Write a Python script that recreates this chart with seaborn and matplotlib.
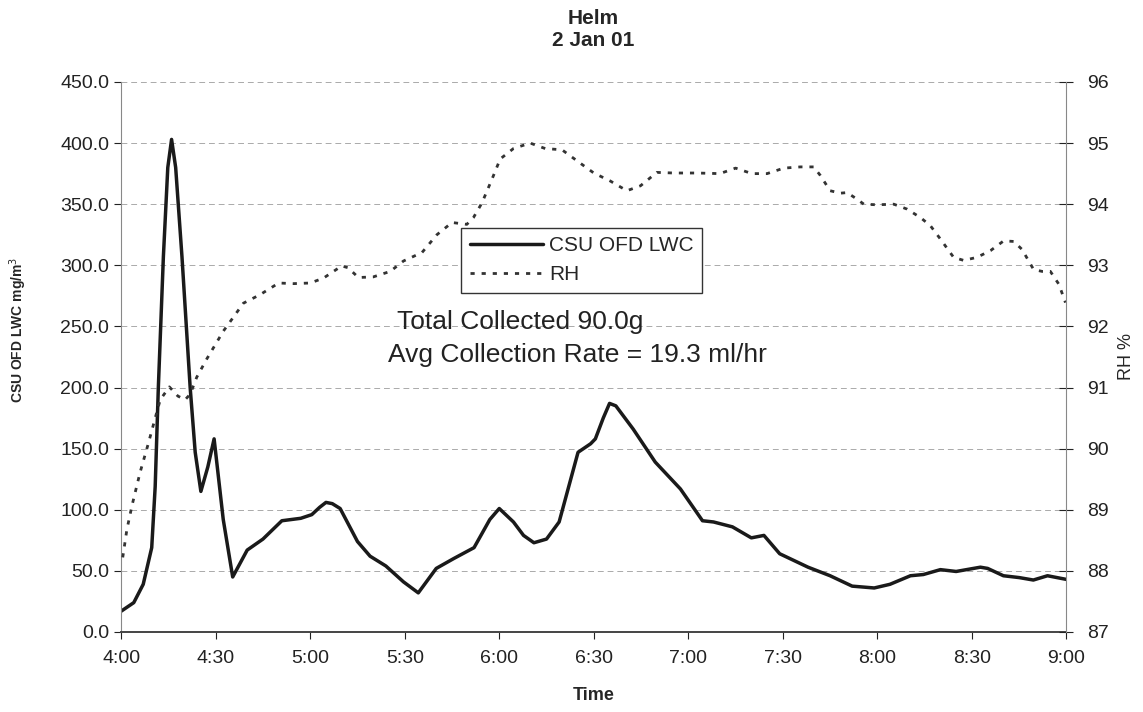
import matplotlib
matplotlib.use('Agg')
import matplotlib.pyplot as plt
import seaborn as sns
import pandas as pd

# LWC series: minutes after 4:00 and value (mg/m3)
lwc_min = [0, 4, 7, 9.7, 10.8, 11.8, 13.4, 14.8, 16, 17.3, 19.3, 21.9, 23.5, 25.3,
           27.5, 29.5, 32.4, 35.4, 40, 45, 51, 57, 60.5, 63, 65, 67, 69.5, 75, 79, 84,
           89.6, 94.3, 100, 105.5, 112, 117, 120, 124.5, 127.7, 131, 135, 139, 145,
           149, 150.5, 153, 155, 157, 162.5, 169.5, 177.5, 184.5, 188, 194, 200, 204,
           209, 218, 225, 232, 239, 244, 250.5, 254.6, 260, 265, 272.7, 275, 280, 285,
           289.5, 294, 300]
lwc_val = [17, 24, 39, 69, 119, 200, 307, 380, 403, 380, 307, 200, 147, 115,
           135, 158, 92, 45, 67, 76, 91, 93, 96, 102, 106, 105, 101, 74, 62, 54,
           41, 32, 52, 60, 69, 92, 101, 90, 79, 73, 76, 90, 147,
           154, 158, 175, 187, 185, 166, 139, 117, 91, 90, 86, 77, 79,
           64, 53, 46, 37.5, 36, 39, 46, 47, 51, 49.5, 53, 52, 46, 44.5,
           42.5, 46, 43]

# RH series: minutes after 4:00 and RH %
rh_min = [0.5, 1.8, 3.4, 6, 8.6, 10.8, 12.4, 15.3, 18, 20.3, 21.9, 24, 27.2, 32.4,
          38.8, 44.1, 50, 54.7, 60, 64.2, 70, 72, 75.3, 80, 85.4, 89.6, 95.5, 100.2,
          105, 109.7, 111.8, 114.5, 117.7, 120.3, 124.5, 129.8, 134.6, 139.9, 145.2,
          150, 155.2, 160.5, 164.8, 170, 175.3, 182.8, 190, 195, 200.2, 205, 210.3,
          215.6, 219.8, 221.9, 225, 228.3, 230.4, 233.6, 235.7, 239.9, 245.2, 249.4,
          253.7, 256.8, 260, 264.2, 267.4, 271.6, 275.9, 280.1, 283.3, 285.9, 289.6,
          292.3, 294.9, 297.6, 299.7]
rh_val = [88.22, 88.67, 89.06, 89.61, 90.08, 90.5, 90.8, 91.01, 90.86, 90.8, 90.89, 91.17, 91.47, 91.92,
          92.38, 92.52, 92.71, 92.70, 92.71, 92.79, 92.99, 92.96, 92.80, 92.81, 92.90, 93.07, 93.21, 93.5,
          93.70, 93.67, 93.78, 94.02, 94.41, 94.74, 94.91, 95.0, 94.91, 94.89, 94.69,
          94.51, 94.38, 94.22, 94.30, 94.52, 94.51, 94.51, 94.5, 94.59, 94.5, 94.5, 94.59,
          94.61, 94.61, 94.47, 94.22, 94.18, 94.19, 94.08, 94.0, 93.99, 94.0, 93.92,
          93.78, 93.65, 93.43, 93.13, 93.08, 93.13, 93.24, 93.40, 93.39, 93.26, 92.93,
          92.9, 92.9, 92.69, 92.39]

tick_min = [0, 30, 60, 90, 120, 150, 180, 210, 240, 270, 300]
tick_labels = ['4:00', '4:30', '5:00', '5:30', '6:00', '6:30', '7:00', '7:30', '8:00', '8:30', '9:00']

lwc = pd.DataFrame({'Time': lwc_min, 'LWC': lwc_val})
rh = pd.DataFrame({'Time': rh_min, 'RH': rh_val})

sns.set_style('white')
plt.rcParams['font.family'] = ['Liberation Sans', 'DejaVu Sans']

fig = plt.figure(figsize=(11.43, 7.12), dpi=100)
ax = fig.add_axes([0.106, 0.1124, 0.827, 0.7725])
ax2 = ax.twinx()

sns.lineplot(data=lwc, x='Time', y='LWC', ax=ax, color='#1a1a1a', linewidth=2.5,
             estimator=None, label='CSU OFD LWC', legend=False)
sns.lineplot(data=rh, x='Time', y='RH', ax=ax2, color='#333333', linewidth=2.0,
             estimator=None, label='RH', legend=False)
ax2.lines[0].set_dashes([1.5, 2.5])

ax.set_xlim(0, 300)
ax.set_ylim(0, 450)
ax2.set_ylim(87, 96)
ax.set_xticks(tick_min)
ax.set_xticklabels(tick_labels)
ax.set_yticks(range(0, 451, 50))
ax.set_yticklabels([f'{v:.1f}' for v in range(0, 451, 50)])
ax2.set_yticks(range(87, 97))

ax.yaxis.grid(True, color='#aaaaaa', linestyle=(0, (6, 4)), linewidth=0.7)
ax.set_axisbelow(True)

for a in (ax, ax2):
    for s in a.spines.values():
        s.set_visible(False)
ax.spines['left'].set_visible(True)
ax.spines['left'].set_color('#888888')
ax.spines['left'].set_linewidth(0.8)
ax.spines['bottom'].set_visible(True)
ax.spines['bottom'].set_color('#444444')
ax.spines['bottom'].set_linewidth(1.4)
ax2.spines['right'].set_visible(True)
ax2.spines['right'].set_color('#888888')
ax2.spines['right'].set_linewidth(0.8)

ax.tick_params(axis='both', labelsize=14, colors='#222222', length=5, width=0.8,
               direction='out', left=True, bottom=True)
ax.tick_params(axis='x', pad=8)
ax2.tick_params(axis='y', labelsize=14, colors='#222222', length=10, width=0.8,
                direction='inout', right=True, pad=10)

ax.set_xlabel('Time', fontsize=13, fontweight='bold')
ax.xaxis.set_label_coords(0.5, -0.1)
ax.set_ylabel('CSU OFD LWC mg/m$^3$', fontsize=10, fontweight='bold')
ax.yaxis.set_label_coords(-0.097, 0.55)
ax2.set_ylabel('RH %', fontsize=13)
ax2.yaxis.set_label_coords(1.055, 0.5)

fig.suptitle('Helm\n2 Jan 01', x=0.519, y=0.988, fontsize=15, fontweight='bold',
             linespacing=1.25)

h1, l1 = ax.get_legend_handles_labels()
h2, l2 = ax2.get_legend_handles_labels()
leg = ax2.legend(h1 + h2, l1 + l2, loc='upper left', bbox_to_anchor=(0.36, 0.735),
                 fontsize=15, frameon=True, fancybox=False, shadow=False,
                 edgecolor='#333333', framealpha=1, handlelength=3.5,
                 borderpad=0.4, labelspacing=0.5, handletextpad=0.3, borderaxespad=0)
leg.get_frame().set_linewidth(1.0)
leg.set_zorder(10)

ax.text(87.6, 254, 'Total Collected 90.0g', fontsize=19, color='#222222', va='center')
ax.text(84.8, 227, 'Avg Collection Rate = 19.3 ml/hr', fontsize=19, color='#222222', va='center')

fig.savefig('out.png', dpi=100)
